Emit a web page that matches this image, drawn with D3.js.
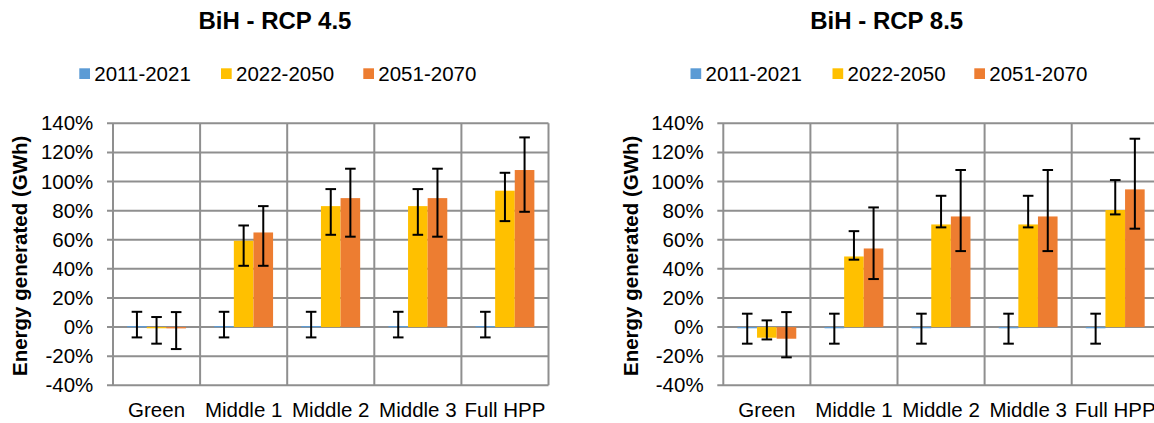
<!DOCTYPE html>
<html>
<head>
<meta charset="utf-8">
<script src="https://cdn.jsdelivr.net/npm/d3@7"></script>
<style>
  html, body { margin: 0; padding: 0; background: #fff; }
  svg { display: block; font-family: "Liberation Sans", Arial, sans-serif; }
</style>
</head>
<body>
<svg id="chart" width="1154" height="423"></svg>
<script>
// ---------------- data ----------------
const categories = ["Green", "Middle 1", "Middle 2", "Middle 3", "Full HPP"];
const seriesNames = ["2011-2021", "2022-2050", "2051-2070"];
const seriesColors = ["#5B9BD5", "#FFC000", "#ED7D31"];
const yTicks = [-40, -20, 0, 20, 40, 60, 80, 100, 120, 140];

// RCP 4.5 (values, error bar top, error bar bottom), in %
const rcp45_2011 = [0.7, 0.7, 0.7, 0.7, 0.7];
const rcp45_2011_hi = [10.5, 10.5, 10.5, 10.5, 10.5];
const rcp45_2011_lo = [-7.1, -7.1, -7.1, -7.1, -7.1];
const rcp45_2022 = [-0.3, 59.3, 83.1, 83.1, 93.7];
const rcp45_2022_hi = [6.9, 69.8, 94.8, 94.8, 106.0];
const rcp45_2022_lo = [-11.4, 42.1, 63.4, 63.4, 72.8];
const rcp45_2051 = [-0.9, 65.0, 88.6, 88.6, 107.9];
const rcp45_2051_hi = [10.3, 83.1, 108.8, 108.8, 130.3];
const rcp45_2051_lo = [-15.1, 42.1, 62.1, 62.1, 79.2];

// RCP 8.5
const rcp85_2011 = [-0.3, -0.3, -0.3, -0.3, -0.3];
const rcp85_2011_hi = [9.2, 9.2, 9.2, 9.2, 9.2];
const rcp85_2011_lo = [-11.4, -11.4, -11.4, -11.4, -11.4];
const rcp85_2022 = [-7.3, 48.5, 70.5, 70.5, 80.4];
const rcp85_2022_hi = [4.6, 65.9, 90.2, 90.2, 101.0];
const rcp85_2022_lo = [-8.5, 46.3, 68.5, 68.5, 77.4];
const rcp85_2051 = [-8.0, 54.0, 76.0, 76.0, 94.6];
const rcp85_2051_hi = [10.3, 82.2, 107.9, 107.9, 129.4];
const rcp85_2051_lo = [-20.8, 33.0, 52.2, 52.2, 67.6];

const charts = [
  {
    title: "BiH - RCP 4.5",
    values: [rcp45_2011, rcp45_2022, rcp45_2051],
    hi: [rcp45_2011_hi, rcp45_2022_hi, rcp45_2051_hi],
    lo: [rcp45_2011_lo, rcp45_2022_lo, rcp45_2051_lo],
    x0: 113, titleX: 275, yTitleX: 27.4,
    legendX: [79.3, 221, 363.3]
  },
  {
    title: "BiH - RCP 8.5",
    values: [rcp85_2011, rcp85_2022, rcp85_2051],
    hi: [rcp85_2011_hi, rcp85_2022_hi, rcp85_2051_hi],
    lo: [rcp85_2011_lo, rcp85_2022_lo, rcp85_2051_lo],
    x0: 723.3, titleX: 886.7, yTitleX: 638,
    legendX: [690.5, 832.5, 974.3]
  }
];

// ---------------- drawing ----------------
const svg = d3.select("#chart");
const plotW = 435.5, yTop = 123.3, yBottom = 385.3;
const fs = 20.5;
const gridColor = "#8f8f8f";

charts.forEach(c => {
  const g = svg.append("g");
  const x = d3.scaleBand().domain(categories).range([c.x0, c.x0 + plotW]).padding(0);
  const xs = d3.scaleBand().domain(d3.range(seriesNames.length))
    .range([0, x.bandwidth()]).paddingInner(0).paddingOuter(0.72);
  const y = d3.scaleLinear().domain([-40, 140]).range([yBottom, yTop]);

  // horizontal gridlines (with outside tick stub)
  g.append("g").selectAll("line").data(yTicks).join("line")
    .attr("x1", c.x0 - 6).attr("x2", c.x0 + plotW)
    .attr("y1", d => y(d)).attr("y2", d => y(d))
    .attr("stroke", gridColor).attr("stroke-width", 2);

  // vertical category gridlines
  const bounds = categories.map(d => x(d)).concat([c.x0 + plotW]);
  g.append("g").selectAll("line").data(bounds).join("line")
    .attr("x1", d => d).attr("x2", d => d)
    .attr("y1", yTop).attr("y2", yBottom)
    .attr("stroke", gridColor).attr("stroke-width", 2);

  // y axis labels
  const ya = g.append("g").attr("transform", `translate(${c.x0},0)`)
    .call(d3.axisLeft(y).tickValues(yTicks).tickSize(0).tickPadding(19.7).tickFormat(d => d + "%"));
  ya.select(".domain").remove();
  ya.selectAll("text").attr("font-size", fs).attr("fill", "#000")
    .attr("font-family", "'Liberation Sans', Arial, sans-serif");

  // x axis labels
  const xa = g.append("g").attr("transform", `translate(0,${yBottom})`)
    .call(d3.axisBottom(x).tickSize(0).tickPadding(17.1));
  xa.select(".domain").remove();
  xa.selectAll("text").attr("font-size", fs).attr("fill", "#000")
    .attr("font-family", "'Liberation Sans', Arial, sans-serif");

  // bars
  const bars = [];
  c.values.forEach((arr, s) => arr.forEach((v, i) => {
    bars.push({ s, cat: categories[i], v, hi: c.hi[s][i], lo: c.lo[s][i] });
  }));
  g.append("g").selectAll("rect").data(bars).join("rect")
    .attr("x", d => x(d.cat) + xs(d.s))
    .attr("width", xs.bandwidth())
    .attr("y", d => Math.min(y(d.v), y(0)))
    .attr("height", d => Math.max(Math.abs(y(d.v) - y(0)), 1.2))
    .attr("fill", d => seriesColors[d.s]);

  // error bars
  const eb = g.append("g").attr("stroke", "#000").attr("stroke-width", 2);
  const cap = 5.3;
  bars.forEach(d => {
    const cx = x(d.cat) + xs(d.s) + xs.bandwidth() / 2;
    eb.append("line").attr("x1", cx).attr("x2", cx).attr("y1", y(d.hi)).attr("y2", y(d.lo));
    eb.append("line").attr("x1", cx - cap).attr("x2", cx + cap).attr("y1", y(d.hi)).attr("y2", y(d.hi));
    eb.append("line").attr("x1", cx - cap).attr("x2", cx + cap).attr("y1", y(d.lo)).attr("y2", y(d.lo));
  });

  // title
  g.append("text").attr("x", c.titleX).attr("y", 29.3)
    .attr("text-anchor", "middle").attr("font-size", 24).attr("font-weight", "bold")
    .attr("fill", "#000").text(c.title);

  // y axis title
  g.append("text").attr("transform", `translate(${c.yTitleX},${255.8}) rotate(-90)`)
    .attr("text-anchor", "middle").attr("font-size", fs).attr("font-weight", "bold")
    .attr("fill", "#000").text("Energy generated (GWh)");

  // legend
  seriesNames.forEach((name, s) => {
    g.append("rect").attr("x", c.legendX[s]).attr("y", 68.3)
      .attr("width", 10.7).attr("height", 10.7).attr("fill", seriesColors[s]);
    g.append("text").attr("x", c.legendX[s] + 15).attr("y", 81.2)
      .attr("font-size", fs).attr("fill", "#000").text(name);
  });
});
</script>
</body>
</html>
